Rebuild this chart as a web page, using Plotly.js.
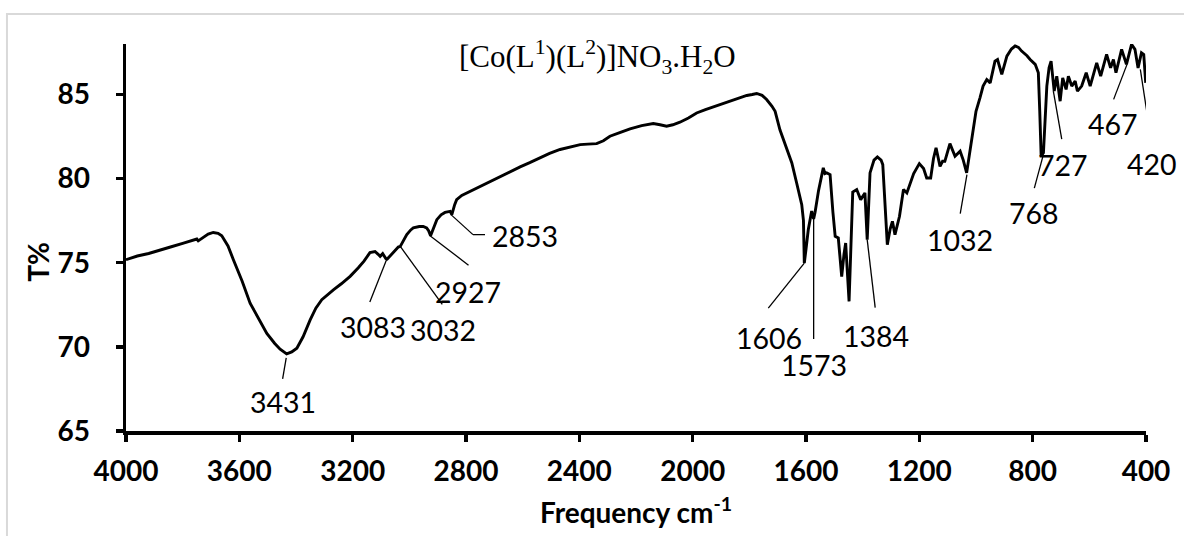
<!DOCTYPE html>
<html>
<head>
<meta charset="utf-8">
<script src="https://cdn.plot.ly/plotly-3.0.1.min.js"></script>
<style>
  html, body { margin: 0; padding: 0; background: #ffffff; }
  #chart { width: 1184px; height: 536px; }
</style>
</head>
<body>
<div id="chart"></div>
<script>
// ---------- DATA ----------
const wavenumber = [
  4000, 3960, 3920, 3880, 3840, 3800, 3760, 3750, 3745, 3735, 3710, 3692, 3675, 3662, 3640, 3621,
  3590, 3562, 3530, 3503, 3475, 3456, 3433, 3415, 3397, 3375, 3350, 3330, 3309, 3290, 3268, 3240,
  3209, 3180, 3160, 3139, 3121, 3110, 3103, 3094, 3083, 3078, 3065, 3056, 3039, 3032, 3020, 3009,
  2995, 2986, 2965, 2951, 2939, 2932, 2925, 2915, 2903, 2888, 2874, 2856, 2850, 2840, 2833, 2815,
  2798, 2775, 2750, 2715, 2680, 2645, 2609, 2575, 2539, 2505, 2468, 2430, 2397, 2370, 2339, 2315,
  2292, 2255, 2221, 2180, 2139, 2115, 2092, 2070, 2045, 2015, 1986, 1955, 1927, 1890, 1856, 1830,
  1809, 1790, 1774, 1755, 1739, 1720, 1709, 1692, 1680, 1665, 1650, 1633, 1615, 1609, 1606, 1600,
  1592, 1580, 1573, 1568, 1556, 1539, 1533, 1527, 1515, 1505, 1497, 1486, 1474, 1466, 1460, 1448,
  1440, 1435, 1421, 1407, 1392, 1384, 1374, 1360, 1348, 1335, 1329, 1320, 1313, 1303, 1295, 1286,
  1278, 1270, 1256, 1244, 1220, 1200, 1185, 1174, 1160, 1150, 1141, 1127, 1118, 1110, 1092, 1074,
  1056, 1045, 1033, 1015, 1000, 986, 975, 962, 950, 933, 924, 909, 891, 875, 862, 850,
  839, 820, 809, 791, 780, 775, 770, 762, 750, 742, 735, 724, 715, 703, 694, 682,
  674, 662, 650, 642, 627, 611, 597, 574, 560, 539, 525, 515, 506, 486, 469, 451,
  439, 428, 416, 408, 401
];
const transmittance = [
  75.18, 75.40, 75.55, 75.73, 75.95, 76.15, 76.38, 76.41, 76.30, 76.42, 76.70, 76.80, 76.75, 76.60, 76.00, 75.18,
  73.90, 72.60, 71.60, 70.80, 70.20, 69.86, 69.58, 69.70, 69.92, 70.60, 71.60, 72.30, 72.80, 73.10, 73.39, 73.75,
  74.19, 74.70, 75.10, 75.60, 75.67, 75.50, 75.38, 75.54, 75.25, 75.22, 75.45, 75.58, 75.93, 75.97, 76.35, 76.67,
  76.95, 77.07, 77.15, 77.16, 77.07, 76.90, 76.60, 77.10, 77.56, 77.85, 77.99, 78.05, 77.86, 78.45, 78.75, 79.00,
  79.14, 79.35, 79.58, 79.85, 80.14, 80.42, 80.70, 80.95, 81.23, 81.50, 81.73, 81.90, 82.02, 82.05, 82.08, 82.25,
  82.52, 82.75, 82.96, 83.15, 83.27, 83.20, 83.11, 83.20, 83.35, 83.60, 83.90, 84.10, 84.26, 84.50, 84.70, 84.85,
  84.94, 85.00, 85.06, 84.95, 84.70, 84.30, 84.00, 82.90, 82.32, 81.60, 80.93, 79.74, 78.45, 77.50, 74.98, 75.80,
  76.96, 78.07, 77.60, 78.00, 79.26, 80.64, 80.30, 80.34, 80.24, 78.00, 76.57, 76.47, 74.18, 75.50, 76.17, 72.70,
  76.50, 79.20, 79.35, 78.75, 79.15, 76.37, 80.34, 81.10, 81.29, 81.10, 80.83, 78.50, 76.07, 77.00, 77.46, 76.67,
  77.20, 77.76, 79.35, 79.15, 80.30, 80.89, 80.60, 80.04, 80.04, 81.20, 81.83, 80.73, 81.03, 81.03, 82.08, 81.33,
  81.63, 81.10, 80.34, 82.32, 84.00, 84.80, 85.50, 85.89, 85.69, 86.98, 87.08, 86.19, 87.28, 87.70, 87.88, 87.80,
  87.58, 87.30, 87.08, 86.79, 86.29, 84.00, 81.33, 81.53, 85.50, 86.60, 86.98, 85.20, 86.09, 84.60, 85.99, 85.30,
  86.09, 85.50, 85.79, 85.20, 85.50, 86.29, 85.50, 86.88, 86.09, 87.38, 86.58, 87.08, 86.29, 87.68, 86.79, 87.98,
  87.68, 86.58, 87.48, 87.38, 85.69
];

// peak labels (wavenumber of the labelled band and transmittance at the label point)
const peakLabels = ['3431', '3083', '3032', '2927', '2853', '1606', '1573', '1384', '1032', '768', '727', '467', '420'];
const peakWn     = [3431, 3083, 3032, 2927, 2853, 1606, 1573, 1384, 1032, 768, 727, 467, 420];
const peakT      = [69.52, 75.22, 75.97, 76.61, 77.86, 74.98, 77.60, 76.37, 80.24, 81.40, 85.20, 86.79, 86.49];

// axis ticks
const xTickVals = [4000, 3600, 3200, 2800, 2400, 2000, 1600, 1200, 800, 400];
const xTickText = ['4000', '3600', '3200', '2800', '2400', '2000', '1600', '1200', '800', '400'];
const yTickVals = [65, 70, 75, 80, 85];
const yTickText = ['65', '70', '75', '80', '85'];

const chartTitle = '[Co(L<sup>1</sup>)(L<sup>2</sup>)]NO<sub>3</sub>.H<sub>2</sub>O';
const xTitle = 'Frequency cm<sup>-1</sup>';
const yTitle = 'T%';

// ---------- LAYOUT CONFIG (pixel offsets of leader lines and label texts, screen-down positive) ----------
const labelStyle = [
  { segs: [[-1, 3, -4.6, 24]],            tx: -4,  ty: 47 },   // 3431
  { segs: [[1, 0, -16, 43]],              tx: -13, ty: 68 },   // 3083
  { segs: [[0, 0, 42, 58]],               tx: 43,  ty: 84 },   // 3032
  { segs: [[0, 0, 38.5, 29.5]],           tx: 38,  ty: 56 },   // 2927
  { segs: [[0, 0, 22, 20], [22, 20, 34, 20]], tx: 74, ty: 21 }, // 2853
  { segs: [[0, 0, -36, 45]],              tx: -35, ty: 75 },   // 1606
  { segs: [[0, 0, 0, 120]],               tx: 0,   ty: 146 },  // 1573
  { segs: [[0, 0, 8, 68]],                tx: 9,   ty: 96 },   // 1384
  { segs: [[0, 0, -6.7, 39]],             tx: -6.7,ty: 65 },   // 1032
  { segs: [[1.5, 0, -7.4, 33]],           tx: -7.7,ty: 58 },   // 768
  { segs: [[0, 0, 8.4, 48]],              tx: 10,  ty: 74 },   // 727
  { segs: [[0, 0, -13.4, 35]],            tx: -13.7,ty: 60 },  // 467
  { segs: [[0, 0, 10.7, 70]],             tx: 11.7,ty: 95 }    // 420
];

const shapes = [];
const annotations = [];

// light grey outer frame (only top and left edges fall inside the picture)
shapes.push({
  type: 'rect', xref: 'paper', yref: 'paper',
  x0: -0.1167, x1: 1.06, y0: -0.30, y1: 1.0775,
  line: { color: '#d9d9d9', width: 2 }, fillcolor: 'rgba(0,0,0,0)', layer: 'below'
});

const labelFont = { family: 'Lato, "Open Sans", sans-serif', size: 28.5, color: '#000000' };

peakLabels.forEach(function (lab, i) {
  const st = labelStyle[i];
  st.segs.forEach(function (s) {
    shapes.push({
      type: 'line', xref: 'x', yref: 'y',
      xsizemode: 'pixel', ysizemode: 'pixel',
      xanchor: peakWn[i], yanchor: peakT[i],
      x0: s[0], y0: -s[1], x1: s[2], y1: -s[3],
      line: { color: '#000000', width: 1.3 }
    });
  });
  annotations.push({
    x: peakWn[i], y: peakT[i], xref: 'x', yref: 'y',
    text: lab, showarrow: false,
    xanchor: 'center', yanchor: 'middle',
    xshift: st.tx, yshift: -st.ty,
    font: labelFont
  });
});

annotations.push({
  xref: 'paper', yref: 'paper', x: 0.4618, y: 0.966,
  xanchor: 'center', yanchor: 'middle', showarrow: false,
  text: chartTitle,
  font: { family: '"Liberation Serif", "Times New Roman", serif', size: 31, color: '#000000' }
});

const axisFont = { family: 'Lato, "Open Sans", sans-serif', size: 28, color: '#000000', weight: 700 };

// y-axis title placed as a rotated label left of the tick labels
annotations.push({
  xref: 'paper', yref: 'paper', x: -0.0863, y: 0.437,
  xanchor: 'center', yanchor: 'middle', showarrow: false,
  textangle: -90, text: yTitle, font: axisFont
});

const trace = {
  type: 'scatter', mode: 'lines',
  x: wavenumber, y: transmittance,
  line: { color: '#000000', width: 2.9, shape: 'linear' },
  hoverinfo: 'skip', showlegend: false
};

const layout = {
  width: 1184, height: 536,
  margin: { l: 126, r: 38, t: 44, b: 105, pad: 0 },
  paper_bgcolor: '#ffffff', plot_bgcolor: '#ffffff',
  showlegend: false,
  xaxis: {
    range: [4000, 400], autorange: false,
    tickmode: 'array', tickvals: xTickVals, ticktext: xTickText,
    showgrid: false, zeroline: false,
    showline: true, linecolor: '#000000', linewidth: 3.5,
    ticks: 'outside', ticklen: 7, tickwidth: 3.5, tickcolor: '#000000',
    tickfont: axisFont, ticklabelstandoff: 6,
    title: { text: xTitle, font: axisFont, standoff: 18 },
    automargin: false
  },
  yaxis: {
    range: [65, 88], autorange: false,
    tickmode: 'array', tickvals: yTickVals, ticktext: yTickText,
    showgrid: false, zeroline: false,
    showline: true, linecolor: '#000000', linewidth: 3.5,
    ticks: 'outside', ticklen: 7, tickwidth: 3.5, tickcolor: '#000000',
    tickfont: axisFont, ticklabelstandoff: 20,
    automargin: false
  },
  shapes: shapes,
  annotations: annotations
};

Plotly.newPlot('chart', [trace], layout, { displayModeBar: false, staticPlot: true });
</script>
</body>
</html>
